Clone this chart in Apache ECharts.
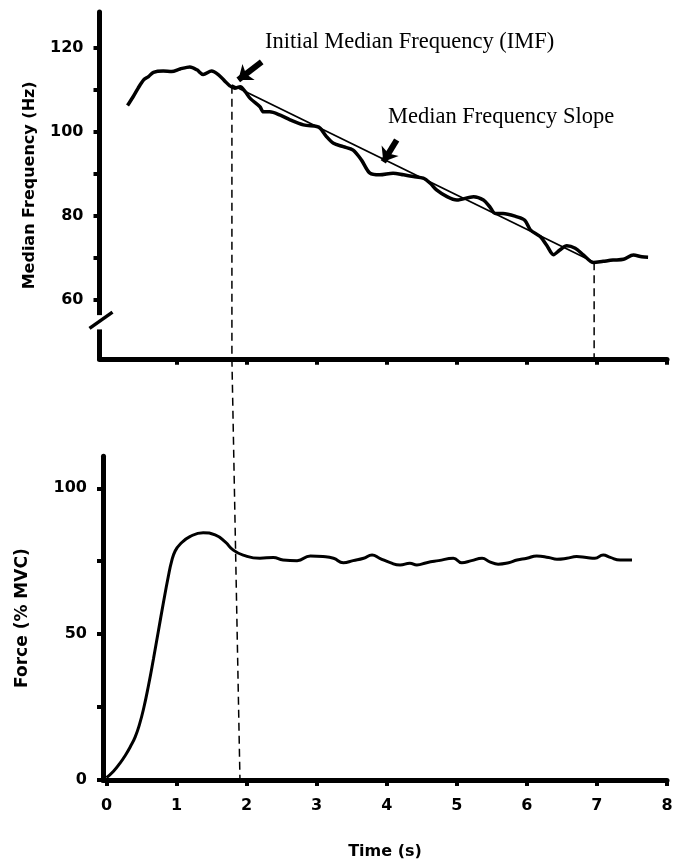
<!DOCTYPE html>
<html>
<head>
<meta charset="utf-8">
<script src="https://cdn.jsdelivr.net/npm/echarts@6/dist/echarts.min.js"></script>
<style>
html,body{margin:0;padding:0;background:#fff;}
#c{width:676px;height:862px;}
</style>
</head>
<body>
<div id="c"></div>
<script>
// ---- data ----
var xTicks = [0, 1, 2, 3, 4, 5, 6, 7, 8];
var mfTickValues = [60, 70, 80, 90, 100, 110, 120];
var mfLabelValues = [60, 80, 100, 120];
var forceTickValues = [0, 25, 50, 75, 100];
var forceLabelValues = [0, 50, 100];

var mfTime = [0.30,0.38,0.45,0.53,0.60,0.67,0.81,0.93,1.05,1.19,1.29,1.38,1.50,1.60,1.69,1.76,1.83,1.91,1.98,2.05,2.19,2.24,2.33,2.48,2.62,2.81,3.00,3.05,3.14,3.24,3.38,3.52,3.64,3.76,3.90,4.09,4.24,4.38,4.52,4.62,4.71,4.86,5.00,5.24,5.38,5.47,5.55,5.66,5.86,5.97,6.05,6.19,6.28,6.38,6.47,6.57,6.69,6.81,6.95,7.09,7.23,7.38,7.52,7.64,7.73];
var mfValue = [106.3,108.4,110.4,112.4,113.2,114.2,114.5,114.4,115.0,115.5,114.8,113.7,114.5,113.6,112.1,111.0,110.4,110.8,109.6,108.0,106.0,104.8,104.8,104.0,102.9,101.7,101.3,100.9,98.9,97.3,96.5,95.7,93.3,90.2,89.8,90.2,89.8,89.4,89.0,87.8,86.2,84.6,83.8,84.6,83.8,82.2,80.6,80.6,79.8,79.0,76.7,75.1,73.1,70.8,71.9,72.9,72.3,70.7,68.9,69.2,69.5,69.7,70.7,70.3,70.2];

var slopeTime = [1.79, 6.96];
var slopeValue = [111.2, 69.0];

var imfDashTime = [1.79, 1.79];
var imfDashValue = [111.0, 46];
var endDashTime = [6.96, 6.96];
var endDashValue = [69.0, 46];

var forceTime = [0,0.10,0.19,0.27,0.34,0.41,0.47,0.53,0.60,0.67,0.74,0.81,0.88,0.93,0.98,1.05,1.19,1.38,1.55,1.69,1.81,1.95,2.19,2.38,2.52,2.72,2.91,3.09,3.24,3.38,3.52,3.67,3.79,3.90,4.05,4.19,4.33,4.43,4.57,4.74,4.95,5.07,5.21,5.36,5.47,5.59,5.74,5.86,6.00,6.14,6.31,6.43,6.57,6.71,6.85,6.97,7.09,7.19,7.33,7.50];
var forceValue = [0.8,3.0,5.7,8.5,11.4,14.8,19.0,24.5,32.5,41.5,51.0,60.5,69.5,75.0,78.5,80.8,83.4,84.8,84.0,81.7,78.8,77.1,76.0,76.3,75.4,75.2,76.8,76.6,76.0,74.5,75.2,76.0,77.1,76.0,74.5,73.7,74.3,73.7,74.5,75.2,76.0,74.5,75.2,76.0,74.8,74.0,74.5,75.4,76.0,76.8,76.3,75.7,76.0,76.6,76.3,76.0,77.1,76.3,75.4,75.4];

// dashed connector drawn in the force panel, continuing upward past its top
var connTime = [1.79, 1.905];
var connValue = [144.4, 0];

// arrows (data coordinates of the upper panel): [tail, tip]
var arrowIMF = [[2.215, 116.7], [1.881, 112.4]];
var arrowSlope = [[4.142, 98.1], [3.951, 92.9]];

var labelIMF = 'Initial Median Frequency (IMF)';
var labelSlope = 'Median Frequency Slope';

function zip(a, b) { return a.map(function (v, i) { return [v, b[i]]; }); }

var AX = { color: '#000', width: 5 };
var labelFont = { color: '#000', fontFamily: 'DejaVu Sans', fontWeight: 'bold', fontSize: 16 };
var nameFont = { color: '#000', fontFamily: 'DejaVu Sans', fontWeight: 'bold', fontSize: 16 };
var TICK = { color: '#000', width: 4 };

var chart = echarts.init(document.getElementById('c'), null, { renderer: 'canvas' });

var option = {
  backgroundColor: '#fff',
  animation: false,
  grid: [
    { left: 99.5, top: 11.88, width: 567.5, height: 346.92 },
    { left: 103, top: 456.2, width: 564.0, height: 323.8 }
  ],
  xAxis: [
    {
      gridIndex: 0, type: 'value', min: -0.1, max: 8,
      axisLine: { show: true, onZero: false, lineStyle: AX },
      axisTick: { show: true, customValues: xTicks.slice(1), length: 6, lineStyle: TICK },
      axisLabel: { show: false },
      splitLine: { show: false }
    },
    {
      gridIndex: 1, type: 'value', min: -0.05, max: 8,
      axisLine: { show: true, onZero: false, lineStyle: AX },
      axisTick: { show: true, customValues: xTicks, length: 6, lineStyle: TICK },
      axisLabel: Object.assign({ show: true, customValues: xTicks, margin: 18 }, labelFont),
      splitLine: { show: false },
      name: 'Time (s)', nameLocation: 'middle', nameGap: 64,
      nameTextStyle: nameFont
    }
  ],
  yAxis: [
    {
      gridIndex: 0, type: 'value', min: 46, max: 128.6,
      axisLine: { show: true, onZero: false, lineStyle: AX },
      axisTick: { show: true, customValues: mfTickValues, length: 6, lineStyle: TICK },
      axisLabel: Object.assign({ show: true, customValues: mfLabelValues, margin: 16 }, labelFont),
      splitLine: { show: false },
      name: 'Median Frequency (Hz)', nameLocation: 'middle', nameGap: 62, nameRotate: 90,
      nameTextStyle: nameFont
    },
    {
      gridIndex: 1, type: 'value', min: 0, max: 111,
      axisLine: { show: true, onZero: false, lineStyle: AX },
      axisTick: { show: true, customValues: forceTickValues, length: 6, lineStyle: TICK },
      axisLabel: Object.assign({ show: true, customValues: forceLabelValues, margin: 16 }, labelFont),
      splitLine: { show: false },
      name: 'Force (% MVC)', nameLocation: 'middle', nameGap: 72, nameRotate: 90,
      nameTextStyle: { color: '#000', fontFamily: 'DejaVu Sans', fontWeight: 'bold', fontSize: 17 }
    }
  ],
  series: [
    {
      name: 'Median frequency', type: 'line', xAxisIndex: 0, yAxisIndex: 0,
      data: zip(mfTime, mfValue), showSymbol: false, smooth: 0.3,
      lineStyle: { color: '#000', width: 3.5 },
      markLine: {
        silent: true, symbol: ['none', 'arrow'], symbolSize: [15, 13],
        lineStyle: { color: '#000', width: 6, type: 'solid' },
        label: { show: false },
        data: [
          [{ coord: arrowIMF[0] }, { coord: arrowIMF[1] }],
          [{ coord: arrowSlope[0] }, { coord: arrowSlope[1] }]
        ]
      }
    },
    {
      name: 'Slope', type: 'line', xAxisIndex: 0, yAxisIndex: 0,
      data: zip(slopeTime, slopeValue), showSymbol: false,
      lineStyle: { color: '#000', width: 1.8 }
    },
    {
      name: 'IMF marker', type: 'line', xAxisIndex: 0, yAxisIndex: 0,
      data: zip(imfDashTime, imfDashValue), showSymbol: false,
      lineStyle: { color: '#000', width: 1.5, type: [8, 5] }
    },
    {
      name: 'End marker', type: 'line', xAxisIndex: 0, yAxisIndex: 0,
      data: zip(endDashTime, endDashValue), showSymbol: false,
      lineStyle: { color: '#000', width: 1.5, type: [8, 5] }
    },
    {
      name: 'Force', type: 'line', xAxisIndex: 1, yAxisIndex: 1,
      data: zip(forceTime, forceValue), showSymbol: false, smooth: 0.5,
      lineStyle: { color: '#000', width: 3 }
    },
    {
      name: 'Connector', type: 'line', xAxisIndex: 1, yAxisIndex: 1,
      data: zip(connTime, connValue), showSymbol: false, clip: false,
      lineStyle: { color: '#000', width: 1.5, type: [8, 5] }
    }
  ]
};
chart.setOption(option);

// annotations and the axis-break mark, positioned through the axes
var axX = 99.5;
var yBreakTop = chart.convertToPixel({ yAxisIndex: 0 }, 56.4);
var yBreakBot = chart.convertToPixel({ yAxisIndex: 0 }, 53.0);
chart.setOption({
  graphic: [
    { type: 'rect', z: 100, shape: { x: axX - 5, y: yBreakTop, width: 10, height: yBreakBot - yBreakTop }, style: { fill: '#fff' } },
    { type: 'line', z: 101, shape: { x1: axX - 10, y1: yBreakBot - 1, x2: axX + 13, y2: yBreakTop - 3 }, style: { stroke: '#000', lineWidth: 3.5 } },
    { type: 'text', z: 100, x: 265, y: 42.5, style: { text: labelIMF, fill: '#000', font: '22.5px "Liberation Serif"', verticalAlign: 'middle', align: 'left' } },
    { type: 'text', z: 100, x: 388, y: 117.5, style: { text: labelSlope, fill: '#000', font: '22.5px "Liberation Serif"', verticalAlign: 'middle', align: 'left' } }
  ]
});
</script>
</body>
</html>
